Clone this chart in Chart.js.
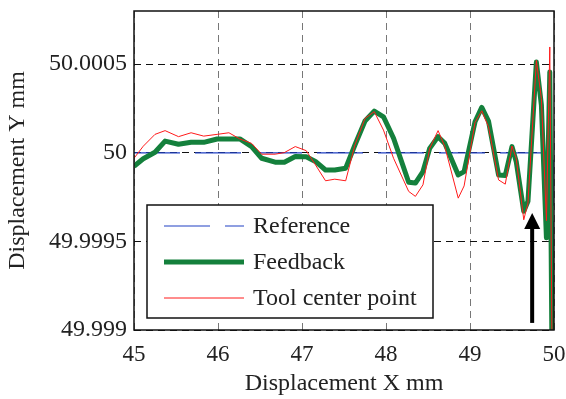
<!DOCTYPE html>
<html>
<head>
<meta charset="utf-8">
<script src="https://cdn.jsdelivr.net/npm/chart.js@4/dist/chart.umd.min.js"></script>
<style>
  html, body { margin: 0; padding: 0; background: #fff; }
  #wrap { width: 566px; height: 399px; }
</style>
</head>
<body>
<div id="wrap"><canvas id="chart" width="566" height="399"></canvas></div>
<script>
// sample positions along X (mm), shared by feedback and tool center point
const xValues = [45.00, 45.11, 45.25, 45.37, 45.53, 45.68, 45.83, 45.99, 46.13, 46.26,
  46.40, 46.52, 46.68, 46.79, 46.92, 47.05, 47.16, 47.28, 47.39, 47.52,
  47.63, 47.75, 47.86, 47.97, 48.09, 48.27, 48.35, 48.44, 48.52, 48.62,
  48.70, 48.86, 48.93, 49.06, 49.14, 49.22, 49.34, 49.42, 49.50, 49.55,
  49.64, 49.69, 49.79, 49.85, 49.91, 49.95, 49.99];

const feedbackY = [49.999924, 49.999966, 50.000003, 50.000066, 50.000048, 50.000059, 50.000059, 50.000078, 50.000078, 50.000078,
  50.000035, 49.999969, 49.999947, 49.999947, 49.999979, 49.999977, 49.999951, 49.999903, 49.999903, 49.999913,
  50.000044, 50.000179, 50.000235, 50.000203, 50.000082, 49.999834, 49.999829, 49.999894, 50.000025, 50.000091,
  50.000053, 49.999875, 49.999894, 50.000175, 50.000256, 50.000179, 49.999875, 49.999872, 50.000035, 49.999951,
  49.999670, 49.999726, 50.000512, 50.000269, 49.999520, 50.000456, 49.998];

const tcpY = [49.999969, 50.000037, 50.000104, 50.000125, 50.000091, 50.000113, 50.000094, 50.000104, 50.000113, 50.000078,
  50.000053, 49.999992, 49.999992, 50.000001, 50.000035, 50.000012, 49.999932, 49.999842, 49.999851, 49.999842,
  50.000044, 50.000194, 50.000232, 50.000128, 49.999969, 49.999782, 49.999754, 49.999819, 50.000025, 50.000125,
  50.000035, 49.999744, 49.999813, 50.000171, 50.000237, 50.000147, 49.999847, 49.999823, 50.000038, 49.999969,
  49.999622, 49.999716, 50.000521, 50.000306, 49.999617, 50.000597, 49.998];

const refX = [45, 50, 50];
const refY = [50, 50, 49.998];

const yTicks = [49.999, 49.9995, 50, 50.0005];
const yTickLabels = ['49.999', '49.9995', '50', '50.0005'];
const xTicks = [45, 46, 47, 48, 49, 50];

const legendNames = ['Reference', 'Feedback', 'Tool center point'];
const arrowAt = { x: 49.74, yTip: 49.99966, yTail: 49.99904 };

const FONT = '"Liberation Serif", "Times New Roman", serif';
const GREEN = '#14803c', RED = '#ff1a1a', BLUE = '#2040c4';

const toPts = (xs, ys) => xs.map((x, i) => ({ x: x, y: ys[i] }));

const overlay = {
  id: 'overlay',
  afterDraw(chart) {
    const ctx = chart.ctx, a = chart.chartArea;
    const xs = chart.scales.x, ys = chart.scales.y;
    ctx.save();
    // frame
    ctx.strokeStyle = '#111';
    ctx.lineWidth = 1.5;
    ctx.setLineDash([]);
    ctx.strokeRect(a.left, a.top, a.right - a.left, a.bottom - a.top);

    // legend box
    const bx = 147, by = 205, bw = 286, bh = 113;
    ctx.fillStyle = '#fff';
    ctx.fillRect(bx, by, bw, bh);
    ctx.strokeRect(bx, by, bw, bh);
    const styles = [
      { color: BLUE, width: 1.2, dash: [46, 15] },
      { color: GREEN, width: 5, dash: [] },
      { color: RED, width: 1, dash: [] }
    ];
    ctx.font = '24px ' + FONT;
    ctx.textBaseline = 'middle';
    legendNames.forEach((name, i) => {
      const y = 226 + i * 36;
      ctx.strokeStyle = styles[i].color;
      ctx.lineWidth = styles[i].width;
      ctx.setLineDash(styles[i].dash);
      ctx.beginPath();
      ctx.moveTo(164, y);
      ctx.lineTo(244, y);
      ctx.stroke();
      ctx.setLineDash([]);
      ctx.fillStyle = '#222';
      ctx.fillText(name, 253, y + 1);
    });

    // arrow
    const ax = xs.getPixelForValue(arrowAt.x);
    const tip = ys.getPixelForValue(arrowAt.yTip);
    const tail = ys.getPixelForValue(arrowAt.yTail);
    ctx.fillStyle = '#000';
    ctx.fillRect(ax - 2, tip + 14, 4, tail - tip - 14);
    ctx.beginPath();
    ctx.moveTo(ax, tip);
    ctx.lineTo(ax - 8, tip + 16);
    ctx.lineTo(ax + 8, tip + 16);
    ctx.closePath();
    ctx.fill();
    ctx.restore();
  }
};

new Chart(document.getElementById('chart'), {
  type: 'line',
  data: {
    datasets: [
      { label: legendNames[2], data: toPts(xValues, tcpY), borderColor: RED, borderWidth: 1, order: 0 },
      { label: legendNames[1], data: toPts(xValues, feedbackY), borderColor: GREEN, borderWidth: 5, order: 1 },
      { label: legendNames[0], data: toPts(refX, refY), borderColor: BLUE, borderWidth: 1.2, borderDash: [46, 15], order: 2 }
    ]
  },
  options: {
    responsive: false,
    animation: false,
    layout: { padding: { left: 0, right: 12, top: 11, bottom: 0 } },
    elements: { point: { radius: 0 }, line: { tension: 0, borderJoinStyle: 'round', borderCapStyle: 'butt' } },
    plugins: { legend: { display: false }, tooltip: { enabled: false } },
    scales: {
      x: {
        type: 'linear',
        min: 45, max: 50,
        afterBuildTicks: s => { s.ticks = xTicks.map(v => ({ value: v })); },
        afterFit: s => { s.height = 69; s.paddingLeft = 0; s.paddingRight = 0; },
        grid: { color: '#777', lineWidth: 1, drawTicks: false },
        border: { display: false, dash: [7, 5] },
        ticks: { padding: 11, color: '#222', font: { family: FONT, size: 23 } },
        title: { display: true, text: 'Displacement X mm', color: '#222', font: { family: FONT, size: 24 }, padding: { top: 0, bottom: 1 } }
      },
      y: {
        type: 'linear',
        min: 49.999, max: 50.0008,
        afterBuildTicks: s => { s.ticks = yTicks.map(v => ({ value: v })); },
        afterFit: s => { s.width = 134; s.paddingTop = 0; s.paddingBottom = 0; },
        grid: { color: '#111', lineWidth: 1, drawTicks: false },
        border: { display: false, dash: [7, 5] },
        ticks: {
          padding: 7, color: '#222', font: { family: FONT, size: 24 },
          callback: v => { const i = yTicks.findIndex(t => Math.abs(t - v) < 1e-7); return i >= 0 ? yTickLabels[i] : ''; }
        },
        title: { display: true, text: 'Displacement Y mm', color: '#222', font: { family: FONT, size: 24 }, padding: { top: 3, bottom: 0 } }
      }
    }
  },
  plugins: [overlay]
});
</script>
</body>
</html>
